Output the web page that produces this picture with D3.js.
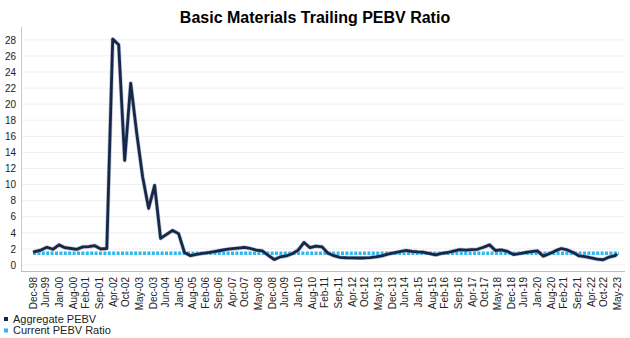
<!DOCTYPE html>
<html>
<head>
<meta charset="utf-8">
<script src="https://cdn.jsdelivr.net/npm/d3@7"></script>
<style>
  html, body { margin: 0; padding: 0; background: #fff; }
  svg { display: block; font-family: "Liberation Sans", Arial, sans-serif; }
</style>
</head>
<body>
<svg id="chart" width="630" height="338"></svg>
<script>
// ---- data ----
const title = "Basic Materials Trailing PEBV Ratio";
const seriesNames = ["Aggregate PEBV", "Current PEBV Ratio"];

const dates = [
  "1998-12",
  "1999-04","1999-07","1999-10",
  "2000-01","2000-04","2000-07","2000-10",
  "2001-01","2001-04","2001-07","2001-10",
  "2002-01","2002-04","2002-07","2002-10",
  "2003-01","2003-04","2003-07","2003-10",
  "2004-01","2004-04","2004-07","2004-10",
  "2005-01","2005-04","2005-07","2005-10",
  "2006-01","2006-04","2006-07","2006-10",
  "2007-01","2007-04","2007-07","2007-10",
  "2008-01","2008-04","2008-07","2008-10",
  "2009-01","2009-04","2009-07","2009-10",
  "2010-01","2010-04","2010-07","2010-10",
  "2011-01","2011-04","2011-07","2011-10",
  "2012-01","2012-04","2012-07","2012-10",
  "2013-01","2013-04","2013-07","2013-10",
  "2014-01","2014-04","2014-07","2014-10",
  "2015-01","2015-04","2015-07","2015-10",
  "2016-01","2016-04","2016-07","2016-10",
  "2017-01","2017-04","2017-07","2017-10",
  "2018-01","2018-04","2018-07","2018-10",
  "2019-01","2019-04","2019-07","2019-10",
  "2020-01","2020-04","2020-07","2020-10",
  "2021-01","2021-04","2021-07","2021-10",
  "2022-01","2022-04","2022-07","2022-10",
  "2023-01","2023-04","2023-05"
];

const aggregatePEBV = [
  1.6,
  1.85, 2.2, 1.95,
  2.5, 2.15, 2.05, 1.95,
  2.25, 2.28, 2.4, 2.0,
  2.05, 28.1, 27.4, 13.0,
  22.6, 16.5, 11.0, 7.05,
  9.9, 3.3, 3.8, 4.3,
  3.9, 1.55, 1.15, 1.32,
  1.43, 1.55, 1.67, 1.8,
  1.93, 2.02, 2.1, 2.18,
  2.05, 1.85, 1.75, 1.2,
  0.68, 1.0, 1.12, 1.4,
  1.85, 2.8, 2.15, 2.35,
  2.25, 1.45, 1.15, 0.95,
  0.9, 0.88, 0.87, 0.87,
  0.92, 1.0, 1.13, 1.35,
  1.5, 1.65, 1.8, 1.7,
  1.62, 1.58, 1.42, 1.25,
  1.45, 1.55, 1.72, 1.9,
  1.85, 1.92, 1.95, 2.2,
  2.5, 1.8, 1.87, 1.68,
  1.3, 1.4, 1.55, 1.65,
  1.75, 1.1, 1.4, 1.75,
  2.05, 1.87, 1.55, 1.12,
  1.03, 0.88, 0.72, 0.65,
  0.98, 1.15, 1.4
];

const currentPEBV = 1.45;

const xTickLabels = [
  "Dec-98","Jun-99","Jan-00","Aug-00","Feb-01","Sep-01","Apr-02","Oct-02","May-03",
  "Dec-03","Jun-04","Jan-05","Aug-05","Feb-06","Sep-06","Apr-07","Oct-07","May-08",
  "Dec-08","Jun-09","Jan-10","Aug-10","Feb-11","Sep-11","Apr-12","Oct-12","May-13",
  "Dec-13","Jun-14","Jan-15","Aug-15","Feb-16","Sep-16","Apr-17","Oct-17","May-18",
  "Dec-18","Jun-19","Jan-20","Aug-20","Feb-21","Sep-21","Apr-22","Oct-22","May-23"
];
const yTicks = [0, 2, 4, 6, 8, 10, 12, 14, 16, 18, 20, 22, 24, 26, 28];

// ---- drawing ----
const svg = d3.select("#chart");
const navy = "#15284b";
const cyan = "#2fb8ee";

const plot = { left: 21, right: 625, top: 27, bottom: 271 };

const parseD = d3.timeParse("%Y-%m");
const parseL = d3.timeParse("%b-%y");
const pts = dates.map((d, i) => ({ date: parseD(d), v: aggregatePEBV[i] }));

const x = d3.scaleTime()
  .domain([parseL("Dec-98"), parseL("May-23")])
  .range([33, 617]);
const y = d3.scaleLinear()
  .domain([-0.75, 29.6])
  .range([plot.bottom, plot.top]);

// title
svg.append("text")
  .attr("x", 315).attr("y", 23)
  .attr("text-anchor", "middle")
  .attr("font-weight", "bold")
  .attr("font-size", 16)
  .attr("fill", "#000")
  .text(title);

// gridlines
svg.append("g")
  .selectAll("line")
  .data(yTicks)
  .join("line")
  .attr("x1", plot.left).attr("x2", plot.right)
  .attr("y1", d => y(d)).attr("y2", d => y(d))
  .attr("stroke", "#efefef").attr("stroke-width", 1);

// y axis
const yAxis = d3.axisLeft(y).tickValues(yTicks).tickSize(0).tickPadding(5);
const gy = svg.append("g").attr("transform", `translate(${plot.left},0)`).call(yAxis);
gy.select(".domain").remove();
gy.selectAll("text").attr("font-size", 10).attr("fill", "#222")
  .attr("font-family", "'Liberation Sans', Arial, sans-serif");
svg.append("line")
  .attr("x1", plot.left + 0.5).attr("x2", plot.left + 0.5)
  .attr("y1", plot.top).attr("y2", plot.bottom)
  .attr("stroke", "#c8c8c8");

// x axis
const xAxis = d3.axisBottom(x)
  .tickValues(xTickLabels.map(parseL))
  .tickFormat(d3.timeFormat("%b-%y"))
  .tickSize(0).tickPadding(4);
const gx = svg.append("g").attr("transform", `translate(0,${plot.bottom})`).call(xAxis);
gx.select(".domain").remove();
gx.selectAll("text")
  .attr("font-size", 10).attr("fill", "#222")
  .attr("font-family", "'Liberation Sans', Arial, sans-serif")
  .attr("transform", "rotate(-90)")
  .attr("text-anchor", "end")
  .attr("dx", "-3")
  .attr("dy", "0.35em")
  .attr("y", 0)
  .attr("x", 0);
gx.selectAll(".tick").each(function() {
  const t = d3.select(this);
  t.select("text").attr("transform", "rotate(-90)").attr("x", -3).attr("y", 0);
});
svg.append("line")
  .attr("x1", plot.left).attr("x2", plot.right)
  .attr("y1", plot.bottom + 0.5).attr("y2", plot.bottom + 0.5)
  .attr("stroke", "#bdbdbd");

// current PEBV dotted line
svg.append("line")
  .attr("x1", x(parseL("Dec-98"))).attr("x2", x(parseL("May-23")) + 2)
  .attr("y1", y(currentPEBV)).attr("y2", y(currentPEBV))
  .attr("stroke", cyan).attr("stroke-width", 3.5)
  .attr("stroke-dasharray", "3,1.4");

// aggregate line
const line = d3.line().x(d => x(d.date)).y(d => y(d.v)).curve(d3.curveLinear);
svg.append("path").datum(pts)
  .attr("d", line).attr("fill", "none")
  .attr("stroke", "#8f9aab").attr("stroke-opacity", 0.55)
  .attr("stroke-width", 4.2).attr("stroke-linejoin", "round");
svg.append("path").datum(pts)
  .attr("d", line).attr("fill", "none")
  .attr("stroke", navy).attr("stroke-width", 2.8)
  .attr("stroke-linejoin", "round");

// legend
const legend = svg.append("g");
const legColors = [navy, cyan];
seriesNames.forEach((name, i) => {
  const ly = 319 + i * 11.5;
  legend.append("rect")
    .attr("x", 4).attr("y", ly - 2).attr("width", 4).attr("height", 4)
    .attr("fill", legColors[i]);
  legend.append("text")
    .attr("x", 13).attr("y", ly).attr("dy", "0.35em")
    .attr("font-size", 11).attr("fill", "#222")
    .text(name);
});
</script>
</body>
</html>
